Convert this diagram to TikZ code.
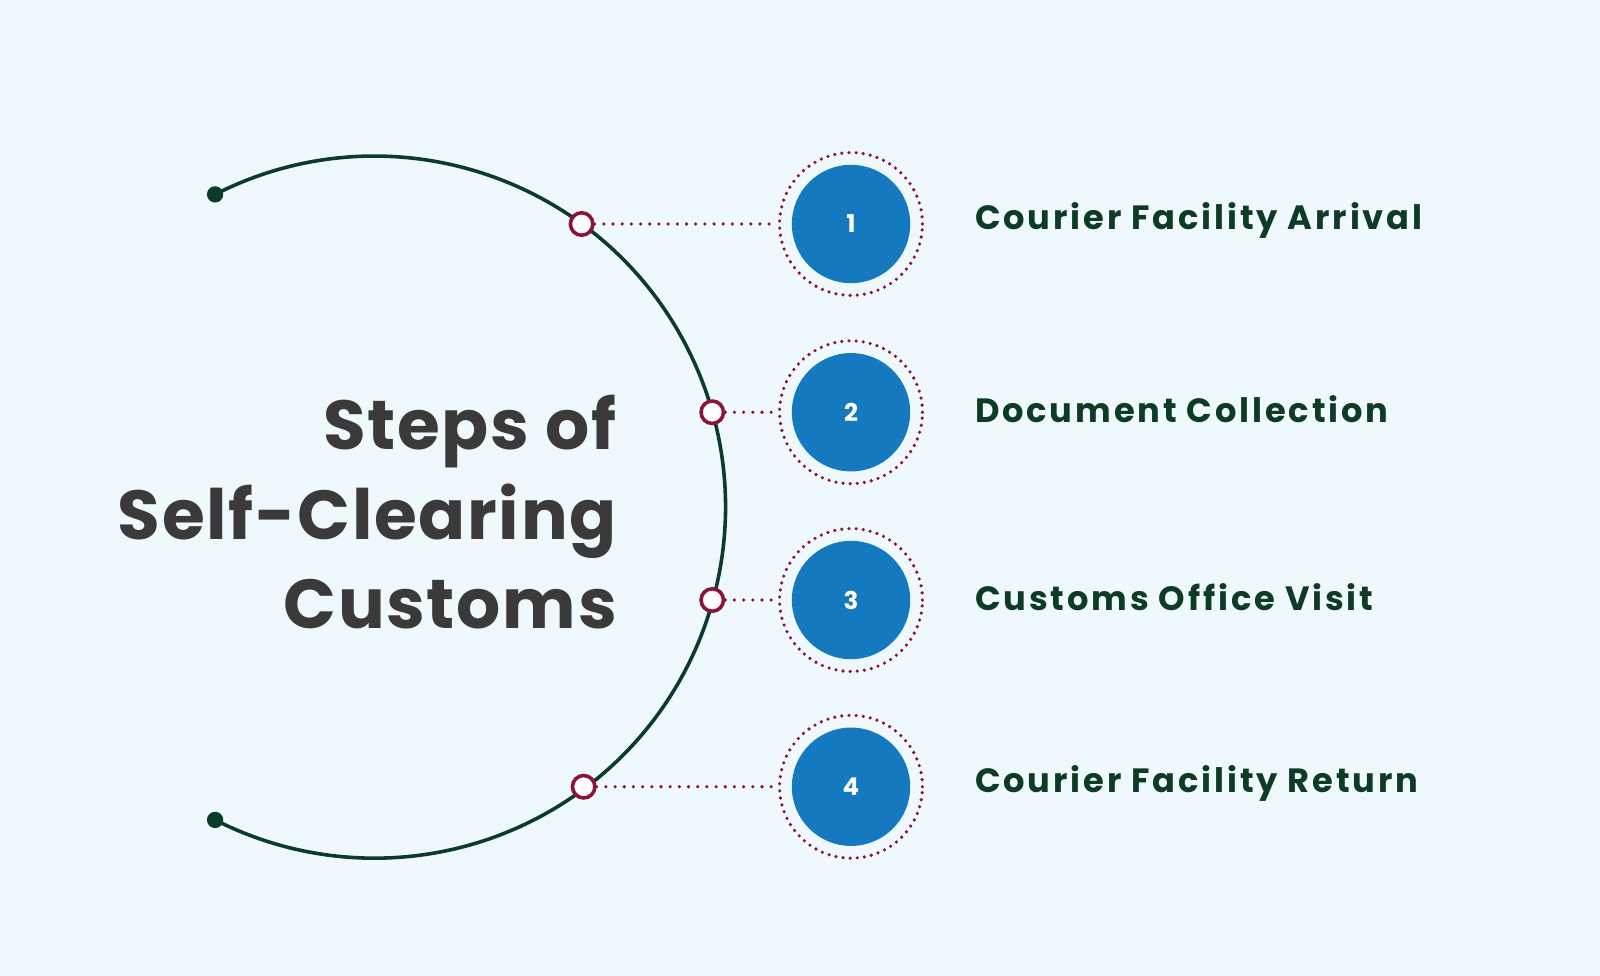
\documentclass[tikz,border=0pt]{standalone}
\usepackage{fontspec}
\setmainfont{Poppins}
\newfontfamily\labfont[LetterSpace=8.5]{Poppins}
\newfontfamily\titfont[LetterSpace=2.5]{Poppins}
\definecolor{bg}{HTML}{EFF9FD}
\definecolor{dg}{HTML}{0B3B2A}
\definecolor{mar}{HTML}{8B1538}
\definecolor{bl}{HTML}{1479BE}
\definecolor{tg}{HTML}{0E3B26}
\definecolor{tt}{HTML}{3A3A3A}
\begin{document}
\begin{tikzpicture}[x=1pt,y=-1pt,
  dot/.style={circle,draw=mar,line width=3.5pt,fill=white,minimum size=22pt,inner sep=0pt},
  num/.style={circle,fill=bl,minimum size=116pt,inner sep=0pt,text=white,font=\fontsize{24}{26}\selectfont\bfseries},
  ring/.style={circle,draw=mar,line width=3.5pt,dash pattern=on 0pt off 7pt,line cap=round,minimum size=140pt,inner sep=0pt},
  lab/.style={anchor=west,text=tg,font=\labfont\fontsize{33}{36}\selectfont\bfseries},
  link/.style={draw=mar,line width=3.5pt,dash pattern=on 0pt off 9pt,line cap=round}]
\fill[bg] (0,0) rectangle (1568,956);
\useasboundingbox (0,0) rectangle (1568,956);
\coordinate (e1) at (210.8,190.5);
\draw[dg,line width=3.5pt] (e1) arc[start angle=-117,end angle=117,radius=344] coordinate (e2);
\fill[dg] (e1) circle (8);
\fill[dg] (e2) circle (8);
\foreach \i/\x/\y/\t in {1/570/219.5/Courier Facility Arrival,2/698/404/Document Collection,3/698/588/Customs Office Visit,4/572/771/Courier Facility Return}{
  \node[ring] (r\i) at (834,\y) {};
  \node[num] (n\i) at (834,\y) {\i};
  \node[dot] (d\i) at (\x,\y) {};
  \draw[link] (d\i) -- (r\i);
  \node[lab] (l\i) at (952,\y-3) {\t};
}
\node[align=right,text=tt,font=\titfont\fontsize{68}{88}\selectfont\bfseries,anchor=east] (title) at (608,502) {Steps of\hspace{22pt}\\Self-Clearing\\Customs};
\end{tikzpicture}
\end{document}
